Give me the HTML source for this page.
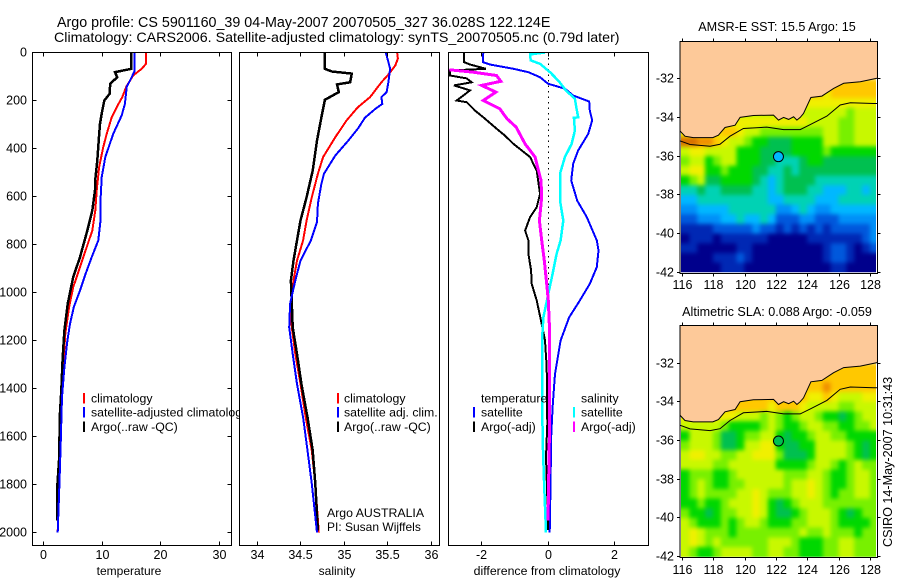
<!DOCTYPE html>
<html>
<head>
<meta charset="utf-8">
<title>Argo profile</title>
<style>
html,body{margin:0;padding:0;background:#fff;}
svg{display:block;}
text{font-family:"Liberation Sans",sans-serif;fill:#000;}
</style>
</head>
<body>
<svg id="fig" xmlns="http://www.w3.org/2000/svg" width="900" height="580" viewBox="0 0 900 580">
  <defs>
    <filter id="grid-smooth" filterUnits="userSpaceOnUse" x="640" y="0" width="260" height="580" color-interpolation-filters="sRGB">
      <feGaussianBlur stdDeviation="2.2"/>
    </filter>
  </defs>
  <rect width="900" height="580" fill="#fff"/>
  <text x="57" y="27" font-size="14.3">Argo profile: CS 5901160_39 04-May-2007 20070505_327 36.028S 122.124E</text>
  <text x="54" y="42" font-size="14.25">Climatology: CARS2006. Satellite-adjusted climatology: synTS_20070505.nc (0.79d later)</text>
  <text x="777" y="31" font-size="12.6" text-anchor="middle">AMSR-E SST: 15.5 Argo: 15</text>
  <text x="777" y="316" font-size="12.6" text-anchor="middle">Altimetric SLA: 0.088 Argo: -0.059</text>
  <text transform="translate(892,547) rotate(-90)" font-size="12.6">CSIRO 14-May-2007 10:31:43</text>
</svg>
<script>
// ---- temperature panel data ----
const depthTicks=[0,200,400,600,800,1000,1200,1400,1600,1800,2000];
const tempTicks=[0,10,20,30];
const salTicks=[34,34.5,35,35.5,36];
const diffTicks=[-2,0,2];
const tempClimDepth=[0,47,68,96,144,186,228,270,339,395,478,575,658,742,811,894,978,1061,1172,1297,1450,1700,2000];
const tempClimVal=[17.5,17.5,16.76,15.3,14.1,13.46,12.5,11.65,10.8,10.2,9.5,9.1,8.86,8.35,7.4,6.25,5.1,4.4,3.75,3.4,3.0,2.7,2.45];
const tempArgoDepth=[0,68,82,103,130,172,200,255,297,367,450,533,575,658,742,853,936,1047,1158,1270,1408,1500,1700,1800,1950];
const tempArgoVal=[15,15,12.2,12.6,11.4,11.3,10.4,9.95,9.66,9.44,9.2,8.85,8.8,8.35,7.5,6.25,5.1,4.15,3.6,3.3,3.07,2.85,2.67,2.4,2.4];
const tempSatDepth=[0,80,96,144,214,262,339,436,519,617,700,783,853,922,992,1061,1131,1200,1311,1436,1600,1800,2000];
const tempSatVal=[15.57,15.5,15.2,14.2,13.9,13.35,11.9,10.56,9.95,9.75,9.75,9.37,8.24,7.2,6.25,5.2,4.55,4.1,3.6,3.18,3.0,2.75,2.45];
// ---- salinity panel data ----
const salClimDepth=[0,25,54,88,124,186,228,283,353,436,505,603,700,783,867,950,1047,1145,1256,1381,1520,1658,1797,2000];
const salClimVal=[35.61,35.62,35.59,35.52,35.43,35.3,35.16,35.03,34.9,34.76,34.7,34.63,34.57,34.53,34.46,34.42,34.39,34.4,34.44,34.5,34.56,34.63,34.67,34.71];
const salArgoDepth=[0,68,79,88,124,133,165,197,270,367,492,603,700,783,867,950,1047,1145,1256,1381,1520,1658,1797,1992];
const salArgoVal=[34.78,34.78,34.86,35.09,35.07,34.92,34.94,34.78,34.74,34.69,34.64,34.57,34.5,34.46,34.42,34.39,34.4,34.41,34.46,34.51,34.58,34.64,34.67,34.7];
const salSatDepth=[0,40,67,124,165,186,214,235,272,317,367,429,505,547,630,707,783,867,950,1047,1145,1256,1381,1520,1658,1797,2000];
const salSatVal=[35.48,35.51,35.53,35.51,35.49,35.43,35.44,35.36,35.24,35.16,35.05,34.9,34.77,34.74,34.7,34.69,34.62,34.5,34.44,34.38,34.37,34.41,34.46,34.53,34.58,34.63,34.69];
// ---- difference panel data ----
const dTempSatDepth=[0,40,50,68,82,103,130,151,179,204,242,283,339,408,463,533,617,686,783,825,894,964,1033,1103,1200,1339,1478,1617,1756,2000];
const dTempSatVal=[-1.95,-1.96,-1.75,-1.04,-0.59,-0.24,0,0.51,0.76,1.24,1.26,1.33,1.21,0.91,0.76,0.7,0.88,1.17,1.47,1.52,1.47,1.26,0.96,0.64,0.38,0.21,0.14,0.09,0.08,0.05];
const dSalSatDepth=[0,8,33,47,82,117,158,193,235,270,272,325,381,436,505,617,700,783,839,922,1006,1103,1200,1395,1617,1783,2000];
const dSalSatVal=[-0.09,-0.54,-0.52,-0.24,0.06,0.31,0.54,0.81,0.86,0.91,0.78,0.81,0.71,0.51,0.36,0.36,0.46,0.38,0.26,0.14,0.01,-0.14,-0.18,-0.18,-0.16,-0.12,-0.06];
const dTempArgoDepth=[0,40,50,68,75,96,108,124,137,158,179,200,207,242,270,317,346,381,436,492,589,645,686,742,783,839,908,964,1033,1117,1200,1311,1547,1686,1853,1990];
const dTempArgoVal=[-2.53,-2.53,-2.35,-1.87,-2.95,-2.95,-2.45,-2.3,-2.83,-2.35,-2.55,-2.75,-2.45,-2.2,-1.95,-1.55,-1.3,-1.04,-0.54,-0.34,-0.24,-0.34,-0.54,-0.69,-0.59,-0.59,-0.51,-0.49,-0.34,-0.21,-0.09,-0.04,-0.02,-0.06,-0.02,0];
const dSalArgoDepth=[72,82,96,120,137,165,200,235,275,311,381,436,533,603,700,783,867,964,1033,1130,1339,1617,1950];
const dSalArgoVal=[-2.97,-2.25,-1.55,-1.42,-2.0,-1.57,-1.95,-1.45,-1.24,-0.96,-0.69,-0.39,-0.21,-0.19,-0.26,-0.19,-0.11,-0.04,0.01,0.04,0.04,0.04,0];
// ---- map data ----
const mapLonTicks=[116,118,120,122,124,126,128];
const mapLatTicks=[-32,-34,-36,-38,-40,-42];
const gridLonStart=115.95;
const gridLatStart=-32;
const gridStep=0.5;
const coastLon=[115.85,116.17,116.7,117.94,118.3,118.72,119.36,119.68,120.53,121.81,122.13,122.45,122.77,123.09,123.3,123.51,123.72,124.19,124.89,125.64,126.28,127.34,128.4];
const coastLat=[-34.69,-34.97,-35.04,-35.04,-34.92,-34.52,-34.4,-34,-33.9,-33.88,-34.14,-34,-34.1,-33.97,-34.14,-34,-33.8,-32.97,-32.9,-32.5,-32.24,-32.16,-31.98];
const shelfLon=[115.85,116.49,117.77,118.4,119.04,119.89,121.38,122.45,123.51,124.15,125.21,126.06,126.7,128.19,128.4];
const shelfLat=[-35.21,-35.4,-35.49,-35.39,-34.97,-34.57,-34.5,-34.63,-34.63,-34.37,-33.93,-33.36,-33.24,-33.28,-33.28];
const profileLon=122.124;
const profileLat=-36.028;
const palette=["#00008c","#0028b4","#0058dc","#0090f8","#00b8ff","#00d2b4","#00c050","#00d800","#78f000","#c8f800","#f0f000","#ffc800","#f09000","#d87000"];
const sstGrid=[
[11,11,11,11,11,11,11,11,11,11,11,11,11,11,11,11,11,11,11,11,11,11,11,11,11],
[11,11,11,11,11,11,11,11,11,11,11,11,11,11,11,11,11,11,10,11,11,11,11,11,11],
[10,10,10,10,10,10,10,10,10,10,10,10,10,10,10,10,10,10,10,10,10,10,10,10,10],
[9,9,9,9,9,9,9,9,9,9,9,9,9,9,9,9,9,9,9,9,9,8,9,9,9],
[10,10,10,10,10,10,10,10,10,10,10,10,10,10,10,10,9,9,9,9,8,8,9,9,9],
[10,10,10,10,10,11,11,10,9,9,8,8,8,8,8,8,8,8,9,9,8,8,9,9,9],
[13,13,12,12,11,10,9,9,8,7,7,6,6,6,7,7,7,7,9,9,8,8,9,9,9],
[9,10,10,9,9,9,9,7,7,7,6,6,6,6,7,7,7,7,8,7,7,7,7,7,7],
[8,9,9,7,8,9,9,7,7,7,6,6,5,5,5,6,7,7,6,6,6,6,6,6,6],
[9,10,10,7,7,8,7,7,7,6,6,5,5,6,5,6,6,6,6,6,6,6,6,6,6],
[7,8,9,6,6,7,7,7,7,6,5,4,5,6,6,6,6,5,5,5,5,5,5,5,5],
[5,5,6,5,5,6,6,6,6,5,5,4,5,6,6,6,5,5,4,4,4,5,5,4,5],
[4,4,5,5,5,5,5,5,5,5,5,4,4,5,5,5,5,4,4,4,5,5,5,5,5],
[3,3,4,4,4,4,5,5,5,5,5,5,3,3,4,5,4,3,3,4,4,4,4,4,4],
[2,2,3,3,3,4,4,5,4,4,5,4,2,2,2,3,3,2,2,2,3,3,3,3,3],
[1,1,1,1,2,2,2,2,2,3,2,2,1,2,1,2,1,2,1,2,2,2,2,2,3],
[0,1,1,1,0,1,1,1,1,1,1,0,0,0,0,0,1,1,1,1,1,1,1,2,3],
[1,1,0,0,0,0,0,1,1,0,0,0,0,0,0,0,0,0,1,2,2,1,0,1,2],
[0,0,0,0,1,1,1,2,1,0,0,0,0,0,0,0,0,0,1,2,2,1,0,0,0],
[0,0,0,0,0,1,1,1,0,0,0,0,0,0,0,0,0,0,0,1,1,0,0,0,0]
];
const slaGrid=[
[11,11,11,11,11,11,11,11,11,11,11,11,11,11,11,11,11,11,11,11,11,11,11,11,11],
[11,11,11,11,11,11,11,11,11,11,11,11,11,11,11,11,11,11,11,11,11,11,11,11,11],
[11,11,11,11,11,11,11,11,11,11,11,11,11,11,11,11,11,11,12,11,11,11,11,11,11],
[11,11,11,11,11,11,11,11,11,11,11,11,11,11,11,11,10,10,11,10,9,9,9,10,10],
[11,11,11,11,11,11,11,11,11,11,11,10,11,11,11,10,9,9,9,9,8,8,9,9,9],
[10,10,10,10,10,10,10,9,9,9,8,9,8,7,8,9,9,8,7,7,6,7,8,9,9],
[9,9,9,9,9,8,7,7,7,7,8,9,8,7,7,8,9,9,8,8,7,7,8,8,9],
[7,9,9,9,8,6,6,7,8,8,9,9,7,6,7,7,8,9,9,8,8,7,7,7,7],
[8,9,9,9,8,6,6,7,9,9,10,10,7,6,6,7,7,9,9,9,9,8,7,6,7],
[9,10,10,9,9,8,8,9,9,10,10,10,8,6,6,6,7,9,9,9,9,8,7,6,7],
[9,9,9,9,8,8,9,9,9,9,9,9,7,7,7,7,8,9,9,8,7,8,9,8,8],
[7,8,8,8,7,7,8,9,9,9,9,9,9,8,8,8,9,9,8,7,7,8,9,9,8],
[7,8,9,8,7,7,8,8,9,9,9,9,9,8,9,9,10,9,8,7,7,8,9,9,8],
[7,8,9,8,8,8,8,9,9,10,9,8,8,8,9,9,10,9,8,7,8,8,9,9,8],
[7,7,8,7,7,8,9,9,9,10,9,7,6,7,8,9,9,9,8,8,8,8,8,8,8],
[8,7,7,6,7,8,8,9,9,10,9,7,6,6,7,8,9,9,9,8,7,6,7,8,8],
[9,8,7,7,7,8,7,8,9,9,8,7,7,7,8,8,9,9,9,8,7,7,7,7,8],
[9,10,9,8,8,8,7,8,8,8,8,8,8,8,8,9,8,8,9,8,8,8,7,8,8],
[9,10,9,8,9,8,8,8,8,8,8,9,9,9,8,7,7,7,8,8,9,9,8,8,8],
[9,8,7,7,8,9,9,9,9,8,8,9,9,8,8,7,7,7,8,8,9,9,8,8,8]
];

const NS="http://www.w3.org/2000/svg";
const svg=document.getElementById('fig');
function mk(tag,attrs,parent){
  const el=document.createElementNS(NS,tag);
  for(const k in attrs){el.setAttribute(k,attrs[k]);}
  (parent||svg).appendChild(el);
  return el;
}
function label(txt,x,y,anchor,size,name,parent){
  const el=mk('text',{x:x,y:y,'text-anchor':anchor||'start','font-size':size||12},parent);
  
  
  el.textContent=txt;
  return el;
}
function tick(x1,y1,x2,y2,name,parent){
  const el=mk('line',{x1:x1,y1:y1,x2:x2,y2:y2,stroke:'#000','stroke-width':1,'shape-rendering':'crispEdges'},parent);
  
  
  return el;
}
const yDepth=d=>52.5+d*0.24;
const xTemp=t=>43.3+5.87*t;
const xSal=s=>257+87*(s-34);
const xDiff=v=>548+33.2*v;
const axTop=52.5, axBottom=545.5;

function panel(id,left,right,xFn,xVals,xFmt,xTitle,titleX,titleSize,hasDepth){
  const g=mk('g',{});
  
  
  const bg=mk('rect',{x:left,y:axTop,width:right-left,height:axBottom-axTop,fill:'#fff'},g);
  
  
  const cp=mk('clipPath',{id:'clip-'+id},g);
  mk('rect',{x:left,y:axTop,width:right-left,height:axBottom-axTop},cp);
  const series=mk('g',{'clip-path':'url(#clip-'+id+')'},g);
  
  
  const frame=mk('rect',{x:left,y:axTop,width:right-left,height:axBottom-axTop,fill:'none',stroke:'#000','stroke-width':1,'shape-rendering':'crispEdges'},g);
  
  
  xVals.forEach(v=>{
    const x=Math.floor(xFn(v))+0.5;
    tick(x,axTop,x,axTop+4,id+'-x-tick-top',g);
    tick(x,axBottom,x,axBottom-4,id+'-x-tick-bottom',g);
    label(xFmt(v),x,559,'middle',12.5,id+'-x-tick-label',g);
  });
  label(xTitle,titleX,575,'middle',titleSize,id+'-x-axis-title',g);
  if(hasDepth){
    depthTicks.forEach(d=>{
      const y=Math.floor(yDepth(d))+0.5;
      tick(left,y,left+4,y,id+'-y-tick-left',g);
      tick(right,y,right-4,y,id+'-y-tick-right',g);
      label(String(d),27,y+4,'end',12.5,id+'-y-tick-label',g);
    });
  }
  return {g,series};
}
function profile(parent,depths,vals,xFn,color,width,name){
  const pts=depths.map((d,i)=>xFn(vals[i]).toFixed(1)+','+yDepth(d).toFixed(1)).join(' ');
  const el=mk('polyline',{points:pts,fill:'none',stroke:color,'stroke-width':width,'stroke-linejoin':'miter','shape-rendering':'crispEdges'},parent);
  
  
  return el;
}
function legendItem(parent,mx,tx,yTop,color,txt,name){
  if(color){
    const m=mk('rect',{x:mx,y:yTop,width:2,height:10.5,fill:color,'shape-rendering':'crispEdges'},parent);
    
    
  }
  label(txt,tx,yTop+9.5,'start',12.3,name+'-label',parent);
}

// panel 1
const p1=panel('temperature',32.5,231.5,xTemp,tempTicks,String,'temperature',129,12,true);
profile(p1.series,tempClimDepth,tempClimVal,xTemp,'#ff0000',2,'temperature-climatology-line');
profile(p1.series,tempArgoDepth,tempArgoVal,xTemp,'#000000',2.5,'temperature-argo-line');
profile(p1.series,tempSatDepth,tempSatVal,xTemp,'#0000ff',2,'temperature-satellite-line');
legendItem(p1.g,83,91,393,'#ff0000','climatology','temperature-legend-climatology');
legendItem(p1.g,83,91,407,'#0000ff','satellite-adjusted climatology','temperature-legend-satellite');
legendItem(p1.g,83,91,421.5,'#000000','Argo(..raw -QC)','temperature-legend-argo');

// panel 2
const p2=panel('salinity',239.5,439.5,xSal,salTicks,String,'salinity',337,12,false);
profile(p2.series,salClimDepth,salClimVal,xSal,'#ff0000',2,'salinity-climatology-line');
profile(p2.series,salArgoDepth,salArgoVal,xSal,'#000000',2.5,'salinity-argo-line');
profile(p2.series,salSatDepth,salSatVal,xSal,'#0000ff',2,'salinity-satellite-line');
legendItem(p2.g,337,344,393,'#ff0000','climatology','salinity-legend-climatology');
legendItem(p2.g,337,344,407,'#0000ff','satellite adj. clim.','salinity-legend-satellite');
legendItem(p2.g,337,344,421.5,'#000000','Argo(..raw -QC)','salinity-legend-argo');
label('Argo AUSTRALIA',327,517,'start',12.3,'float-origin-note',p2.g);
label('PI: Susan Wijffels',327,531,'start',12,'principal-investigator-note',p2.g);

// panel 3
const p3=panel('difference',448.5,648.5,xDiff,diffTicks,String,'difference from climatology',547,12.3,false);
const zero=mk('line',{x1:548.5,y1:yDepth(0),x2:548.5,y2:yDepth(1990),stroke:'#000','stroke-width':1,'stroke-dasharray':'1.5 4','shape-rendering':'crispEdges'},p3.series);


profile(p3.series,dTempSatDepth,dTempSatVal,xDiff,'#0000ff',2,'difference-temperature-satellite-line');
profile(p3.series,dTempArgoDepth,dTempArgoVal,xDiff,'#000000',2,'difference-temperature-argo-line');
profile(p3.series,dSalSatDepth,dSalSatVal,xDiff,'#00ffff',2.5,'difference-salinity-satellite-line');
profile(p3.series,dSalArgoDepth,dSalArgoVal,xDiff,'#ff00ff',3,'difference-salinity-argo-line');
legendItem(p3.g,473,481,393,null,'temperature','difference-legend-temperature-heading');
legendItem(p3.g,473,481,407,'#0000ff','satellite','difference-legend-temperature-satellite');
legendItem(p3.g,473,481,421.5,'#000000','Argo(-adj)','difference-legend-temperature-argo');
legendItem(p3.g,573,581,393,null,'salinity','difference-legend-salinity-heading');
legendItem(p3.g,573,581,407,'#00ffff','satellite','difference-legend-salinity-satellite');
legendItem(p3.g,573,581,421.5,'#ff00ff','Argo(-adj)','difference-legend-salinity-argo');

// maps
function map(id,grid,top,bottom,lat32,lat42,xLabelBase,markerIdx){
  const left=680, right=877.5;
  const xMap=lon=>682.3+(lon-116)*15.7;
  const yMap=lat=>lat32+(lat+32)*(lat42-lat32)/(-10);
  const g=mk('g',{});
  
  
  const cp=mk('clipPath',{id:'clip-'+id},g);
  mk('rect',{x:681,y:top,width:195,height:lat42-top},cp);
  const clipGroup=mk('g',{'clip-path':'url(#clip-'+id+')'},g);
  const cells=mk('g',{filter:'url(#grid-smooth)'},clipGroup);
  
  
  grid.forEach((row,r)=>{
    row.forEach((v,c)=>{
      const lon0=gridLonStart+c*gridStep, lat0=gridLatStart-r*gridStep;
      const x0=xMap(lon0)-(c===0?15:0);
      const x1=xMap(lon0+gridStep)+(c===row.length-1?15:0);
      const y0=yMap(lat0);
      const y1=yMap(lat0-gridStep)+(r===grid.length-1?15:0);
      const cell=mk('rect',{x:x0,y:y0,width:x1-x0+0.5,height:y1-y0+0.5,fill:palette[v]},cells);
      
      
    });
  });
  const landPts=coastLon.map((lon,i)=>xMap(lon).toFixed(1)+','+yMap(coastLat[i]).toFixed(1));
  landPts.push(right+','+yMap(coastLat[coastLat.length-1]).toFixed(1),right+','+top,left+','+top,left+','+yMap(coastLat[0]).toFixed(1));
  const land=mk('polygon',{points:landPts.join(' '),fill:'#fdc999'},g);
  
  
  const coast=mk('polyline',{points:coastLon.map((lon,i)=>xMap(lon).toFixed(1)+','+yMap(coastLat[i]).toFixed(1)).join(' '),fill:'none',stroke:'#000','stroke-width':1},g);
  
  
  const shelf=mk('polyline',{points:shelfLon.map((lon,i)=>xMap(lon).toFixed(1)+','+yMap(shelfLat[i]).toFixed(1)).join(' '),fill:'none',stroke:'#000','stroke-width':1},g);
  
  
  const frame=mk('rect',{x:left-0.5+0.5,y:top,width:right-left,height:bottom-top,fill:'none',stroke:'#000','stroke-width':1,'shape-rendering':'crispEdges'},g);
  
  
  mapLonTicks.forEach(lon=>{
    const x=Math.floor(xMap(lon))+0.5;
    tick(x,top,x,top-3,id+'-x-tick-top',g);
    tick(x,bottom,x,bottom+3,id+'-x-tick-bottom',g);
    label(String(lon),x,xLabelBase,'middle',12.5,id+'-x-tick-label',g);
  });
  mapLatTicks.forEach(lat=>{
    const y=Math.floor(yMap(lat))+0.5;
    tick(left,y,left-3,y,id+'-y-tick-left',g);
    tick(right,y,right+3,y,id+'-y-tick-right',g);
    label(String(lat),674,y+4,'end',12.5,id+'-y-tick-label',g);
  });
  const marker=mk('circle',{cx:xMap(profileLon),cy:yMap(profileLat),r:5,fill:palette[markerIdx],stroke:'#000','stroke-width':1},g);
  
  
}
map('sst',sstGrid,41.5,273.5,78.7,272.3,289,4);
map('sla',slaGrid,325.5,557.5,363,556.7,574,6);
</script>
</body>
</html>
